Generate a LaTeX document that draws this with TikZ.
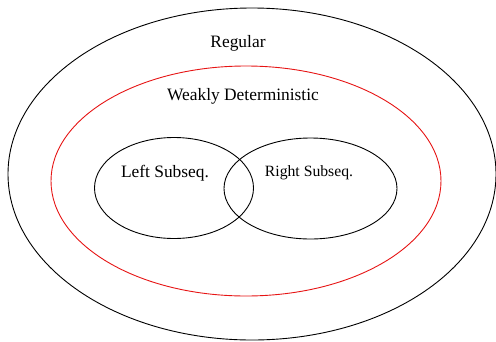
\documentclass[tikz,border=0pt]{standalone}
\usepackage{fontspec}
\setmainfont{Liberation Serif}
\usetikzlibrary{shapes.geometric}
\definecolor{setred}{RGB}{230,20,20}

\begin{document}
\begin{tikzpicture}[x=1pt,y=-1pt, line cap=round, line join=round]

\tikzset{
  set/.style={draw=black, ellipse, inner sep=0pt, line width=0.9pt},
  setlabel/.style={font=\fontsize{17.4}{20}\selectfont, inner sep=0pt},
  smalllabel/.style={font=\fontsize{15.7}{18}\selectfont, inner sep=0pt}
}

\useasboundingbox (0,0) rectangle (496,341);

\node[set, minimum width=488pt, minimum height=332pt] (regular) at (252,174) {};
\node[set, draw=setred, minimum width=390pt, minimum height=230pt] (weak) at (246,181) {};
\node[set, minimum width=159pt, minimum height=101pt] (left) at (174,188) {};
\node[set, minimum width=173pt, minimum height=101pt] (right) at (310.5,188.5) {};

\node[setlabel] (lregular) at (238,43) {Regular};
\node[setlabel] (lweak) at (243,96) {Weakly Deterministic};
\node[setlabel] (lleft) at (165,173) {Left Subseq.};
\node[smalllabel] (lright) at (309,173) {Right Subseq.};

\end{tikzpicture}
\end{document}
